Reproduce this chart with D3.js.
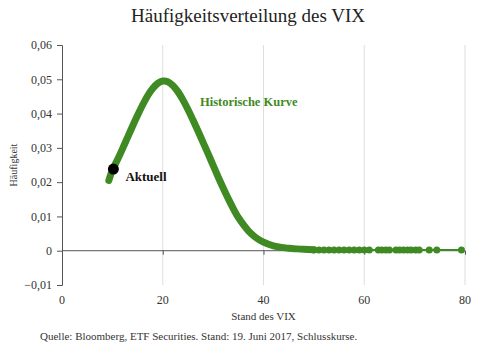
<!DOCTYPE html>
<html>
<head>
<meta charset="utf-8">
<script src="https://cdn.jsdelivr.net/npm/d3@7"></script>
<style>
  body { margin: 0; background: #fff; }
  svg text { font-family: "Liberation Serif", "DejaVu Serif", serif; }
</style>
</head>
<body>
<div id="chart"></div>
<script>
// Kurve: Stand des VIX und Häufigkeit
var vixWerte = [9.3, 10, 11, 12, 13, 14, 15, 16, 17, 18, 19, 20, 21, 22, 23, 24, 25, 26, 27, 28, 29, 30,
                31, 32, 33, 34, 35, 36, 37, 38, 39, 40, 41, 42, 43, 44, 45, 46, 48, 50];
var haeufigkeit = [0.0205, 0.0235, 0.0265, 0.0297, 0.0330, 0.0363, 0.0395, 0.0425, 0.0452, 0.0473, 0.0488, 0.0495,
                   0.0493, 0.0482, 0.0464, 0.0440, 0.0412, 0.0381, 0.0349, 0.0316, 0.0283, 0.0249,
                   0.0215, 0.0183, 0.0152, 0.0123, 0.0097, 0.0076, 0.0058, 0.0044, 0.0033, 0.0025,
                   0.0019, 0.0014, 0.0011, 0.0009, 0.0007, 0.0006, 0.0004, 0.0003];
// vereinzelte Beobachtungen im Ausläufer
var tailWerte = [50, 51, 52, 53, 54, 55, 56, 57, 58, 59, 60, 61, 62.8, 63.5, 64.3, 65, 66.3, 67, 67.8,
                 68.6, 69.3, 70.2, 70.9, 72.9, 74.4, 79.3];
var tailHaeufigkeit = 0.0002;
var aktuell = {vix: 10.2, h: 0.0238};
var xTicks = [0, 20, 40, 60, 80];
var yTicks = [-0.01, 0, 0.01, 0.02, 0.03, 0.04, 0.05, 0.06];

var width = 500, height = 358;
var green = "#3f8a22";

var svg = d3.select("#chart").append("svg")
    .attr("width", width)
    .attr("height", height);

var x = d3.scaleLinear().domain([0, 80]).range([62, 465]);
var y = d3.scaleLinear().domain([-0.01, 0.06]).range([285, 45]);

// Titel
svg.append("text")
  .attr("x", 248).attr("y", 22)
  .attr("text-anchor", "middle")
  .attr("font-size", "19px")
  .attr("fill", "#222")
  .text("Häufigkeitsverteilung des VIX");

// vertikale Gitterlinien
svg.append("g").selectAll("line")
  .data(xTicks.slice(1))
  .join("line")
    .attr("x1", d => x(d)).attr("x2", d => x(d))
    .attr("y1", y(0.06)).attr("y2", y(-0.01))
    .attr("stroke", "#dedede").attr("stroke-width", 1);

// y-Achse
var yAxis = d3.axisLeft(y)
  .tickValues(yTicks)
  .tickSize(5)
  .tickFormat(d => d === 0 ? "0" : d3.format(".2f")(d).replace(".", ","));

svg.append("g")
  .attr("transform", "translate(" + x(0) + ",0)")
  .call(yAxis)
  .call(g => g.select(".domain").attr("stroke", "#555"))
  .call(g => g.selectAll(".tick line").attr("stroke", "#555"))
  .call(g => g.selectAll(".tick text")
      .attr("x", -10)
      .attr("font-size", "12px")
      .attr("fill", "#333")
      .style("font-family", "'Liberation Serif', serif"));

// x-Achse bei 0
var xAxis = d3.axisBottom(x)
  .tickValues(xTicks)
  .tickSize(4)
  .tickFormat("");

svg.append("g")
  .attr("transform", "translate(0," + y(0) + ")")
  .call(xAxis)
  .call(g => g.select(".domain").attr("stroke", "#555").attr("d", "M" + x(0) + ",0H" + x(80)))
  .call(g => g.selectAll(".tick line").attr("stroke", "#555"));

// x-Beschriftungen unterhalb der Fläche
svg.append("g").selectAll("text")
  .data(xTicks)
  .join("text")
    .attr("x", d => x(d))
    .attr("y", 304)
    .attr("text-anchor", "middle")
    .attr("font-size", "12px")
    .attr("fill", "#333")
    .text(d => d);

// Achsentitel
svg.append("text")
  .attr("x", x(40)).attr("y", 320)
  .attr("text-anchor", "middle")
  .attr("font-size", "11px")
  .attr("fill", "#333")
  .text("Stand des VIX");

svg.append("text")
  .attr("transform", "translate(17," + y(0.025) + ") rotate(-90)")
  .attr("text-anchor", "middle")
  .attr("font-size", "10px")
  .attr("fill", "#333")
  .text("Häufigkeit");

// Kurve
var kurve = vixWerte.map((v, i) => ({vix: v, h: haeufigkeit[i]}));
var line = d3.line()
  .x(d => x(d.vix))
  .y(d => y(d.h))
  .curve(d3.curveCatmullRom);

// dünne Linie durch den Ausläufer
var tail = tailWerte.map(v => ({vix: v, h: tailHaeufigkeit}));
svg.append("path")
  .datum([kurve[kurve.length - 1]].concat(tail))
  .attr("d", line)
  .attr("fill", "none")
  .attr("stroke", green)
  .attr("stroke-width", 2);

svg.append("path")
  .datum(kurve)
  .attr("d", line)
  .attr("fill", "none")
  .attr("stroke", green)
  .attr("stroke-width", 7)
  .attr("stroke-linecap", "round")
  .attr("stroke-linejoin", "round");

svg.append("g").selectAll("circle")
  .data(tail)
  .join("circle")
    .attr("cx", d => x(d.vix))
    .attr("cy", d => y(d.h))
    .attr("r", 3.5)
    .attr("fill", green);

// aktueller Stand
svg.append("circle")
  .attr("cx", x(aktuell.vix))
  .attr("cy", y(aktuell.h))
  .attr("r", 5.5)
  .attr("fill", "#000");

svg.append("text")
  .attr("x", x(aktuell.vix) + 12).attr("y", y(aktuell.h) + 12)
  .attr("font-size", "13px")
  .attr("font-weight", "bold")
  .attr("fill", "#111")
  .text("Aktuell");

svg.append("text")
  .attr("x", 200).attr("y", 106)
  .attr("font-size", "12.5px")
  .attr("font-weight", "bold")
  .attr("fill", green)
  .text("Historische Kurve");

// Quelle
svg.append("text")
  .attr("x", 40).attr("y", 340)
  .attr("font-size", "11px")
  .attr("fill", "#333")
  .text("Quelle: Bloomberg, ETF Securities. Stand: 19. Juni 2017, Schlusskurse.");
</script>
</body>
</html>
